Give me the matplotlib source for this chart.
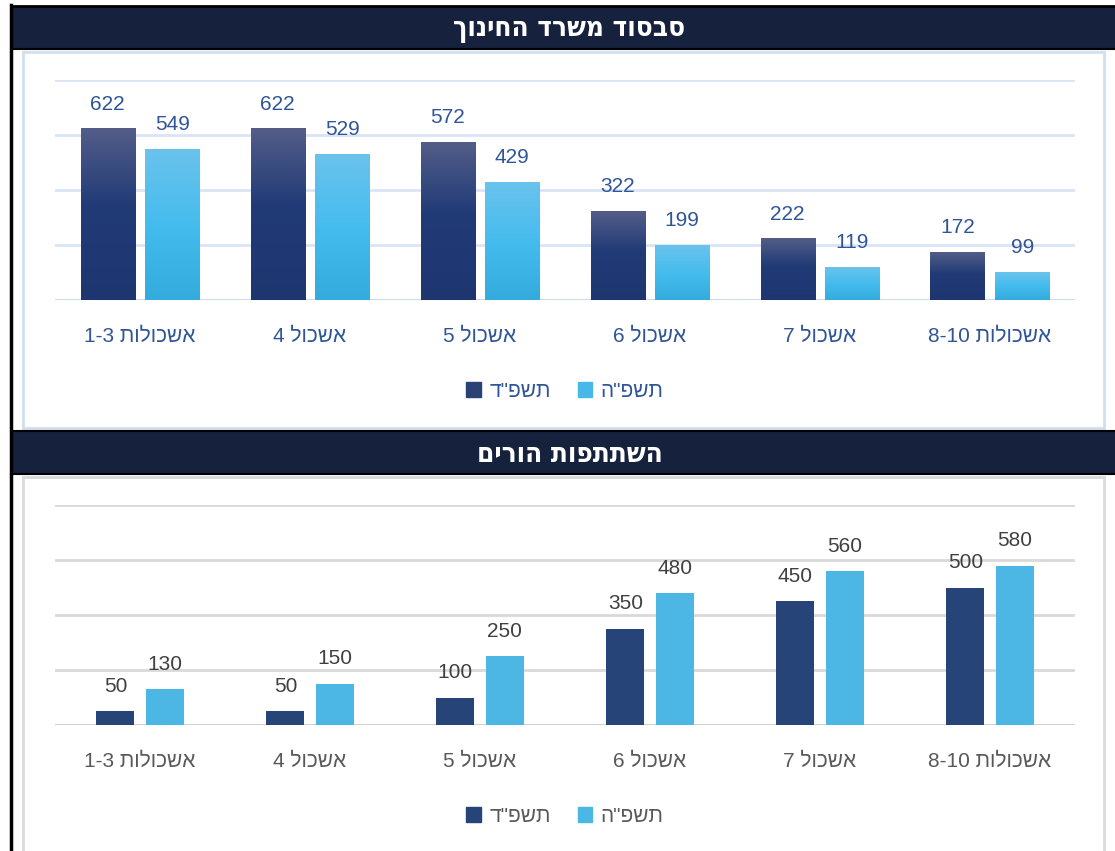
import numpy as np
import matplotlib
matplotlib.use("Agg")
import matplotlib.pyplot as plt
from matplotlib.patches import Rectangle
from matplotlib.lines import Line2D
from matplotlib.colors import LinearSegmentedColormap

plt.rcParams['font.family'] = ['Liberation Sans', 'DejaVu Sans']

# data
categories = ["אשכולות 1-3", "אשכול 4", "אשכול 5", "אשכול 6", "אשכול 7", "אשכולות 8-10"]
series_names = ['תשפ"ד', 'תשפ"ה']
title_top = "סבסוד משרד החינוך"
title_bottom = "השתתפות הורים"
subsidy_84 = [622, 622, 572, 322, 222, 172]
subsidy_85 = [549, 529, 429, 199, 119, 99]
parents_84 = [50, 50, 100, 350, 450, 500]
parents_85 = [130, 150, 250, 480, 560, 580]


def vis(s):
    # matplotlib has no bidi: put hebrew in visual (LTR) order
    out = []
    for tok in s.split(" ")[::-1]:
        if any('\u0590' <= c <= '\u05ff' for c in tok):
            out.append(tok[::-1])
        else:
            out.append(tok)
    return " ".join(out)


W, H = 1115, 851
fig = plt.figure(figsize=(W / 100, H / 100), dpi=100)


def px_rect(x0, y0, x1, y1, **kw):
    r = Rectangle((x0 / W, 1 - y1 / H), (x1 - x0) / W, (y1 - y0) / H,
                  transform=fig.transFigure, **kw)
    fig.add_artist(r)


def px_line(x0, y0, x1, y1, **kw):
    fig.add_artist(Line2D([x0 / W, x1 / W], [1 - y0 / H, 1 - y1 / H],
                          transform=fig.transFigure, **kw))


navy = "#15213d"
# headers
px_rect(11, 6, 1115, 48, facecolor=navy, edgecolor="none")
px_rect(11, 431, 1115, 473, facecolor=navy, edgecolor="none")
px_line(11, 6, 1115, 6, color="black", lw=2)
px_line(11, 48.5, 1115, 48.5, color="black", lw=1.5)
px_line(11, 430.5, 1115, 430.5, color="black", lw=1.5)
px_line(11, 473.5, 1115, 473.5, color="black", lw=1.5)
px_line(11, 5, 11, 851, color="black", lw=2.5)
# panel frames
px_rect(23, 52, 1104, 428, facecolor="none", edgecolor="#cfdff2", lw=2)
px_rect(23, 477, 1104, 860, facecolor="none", edgecolor="#d9d9d9", lw=2)

for y, t in [(29, title_top), (454, title_bottom)]:
    fig.text(0.5 + 12 / W, 1 - y / H, vis(t), color="white", fontsize=20,
             fontweight="bold", ha="center", va="center",
             family=["DejaVu Sans"], fontstretch="condensed")

x = np.arange(len(categories))
labels_vis = [vis(c) for c in categories]

dark_cmap = LinearSegmentedColormap.from_list(
    "d", [(0, "#1e3670"), (0.55, "#213b77"), (1, "#535d88")])
light_cmap = LinearSegmentedColormap.from_list(
    "l", [(0, "#33abdd"), (0.5, "#45bcee"), (1, "#6ac3ec")])
grad = np.linspace(0, 1, 256).reshape(-1, 1)


def setup(ax, gridc, basec, tickc):
    ax.set_ylim(0, 800)
    ax.set_xlim(-0.5, len(categories) - 0.5)
    ax.set_yticks([0, 200, 400, 600, 800])
    ax.yaxis.grid(True, color=gridc, lw=2)
    ax.set_axisbelow(True)
    for s in ax.spines.values():
        s.set_visible(False)
    ax.axhline(0, color=basec, lw=2, zorder=1)
    ax.tick_params(axis="y", left=False, labelleft=False)
    ax.tick_params(axis="x", bottom=False, pad=16, labelsize=15, labelcolor=tickc)
    ax.set_xticks(x)
    ax.set_xticklabels(labels_vis)


# top chart: gradient bars
ax1 = fig.add_axes([55 / W, 1 - 300 / H, 1020 / W, 220 / H])
w1 = 0.32
off1 = 0.19
b1 = ax1.bar(x - off1, subsidy_84, w1, color="none")
b2 = ax1.bar(x + off1, subsidy_85, w1, color="none")
for bars, cm in [(b1, dark_cmap), (b2, light_cmap)]:
    for r in bars:
        x0 = r.get_x()
        ax1.imshow(grad, extent=[x0, x0 + r.get_width(), 0, r.get_height()],
                   origin="lower", cmap=cm, aspect="auto", zorder=2)
setup(ax1, "#d9e5f4", "#cbd9ec", "#2f5597")
for bars, vals in [(b1, subsidy_84), (b2, subsidy_85)]:
    ax1.bar_label(bars, labels=[str(v) for v in vals], padding=11,
                  fontsize=15, color="#2f5597")
ax1.legend(handles=[Rectangle((0, 0), 1, 1, color="#2a4175"),
                    Rectangle((0, 0), 1, 1, color="#48b8e8")],
           labels=[vis(s) for s in series_names], ncol=2, frameon=False,
           loc="center", bbox_to_anchor=(0.5, -0.415), fontsize=15,
           labelcolor="#2f5597", handlelength=0.7, handleheight=0.7,
           handletextpad=0.4, columnspacing=1.3)

# bottom chart: flat bars
ax2 = fig.add_axes([55 / W, 1 - 725 / H, 1020 / W, 220 / H])
w2 = 0.225
off2 = 0.145
c1 = ax2.bar(x - off2, parents_84, w2, color="#264478", zorder=2)
c2 = ax2.bar(x + off2, parents_85, w2, color="#4cb7e5", zorder=2)
setup(ax2, "#d9d9d9", "#d0d0d0", "#595959")
for bars, vals in [(c1, parents_84), (c2, parents_85)]:
    ax2.bar_label(bars, labels=[str(v) for v in vals], padding=11,
                  fontsize=15, color="#404040")
ax2.legend(handles=[Rectangle((0, 0), 1, 1, color="#264478"),
                    Rectangle((0, 0), 1, 1, color="#4cb7e5")],
           labels=[vis(s) for s in series_names], ncol=2, frameon=False,
           loc="center", bbox_to_anchor=(0.5, -0.415), fontsize=15,
           labelcolor="#595959", handlelength=0.7, handleheight=0.7,
           handletextpad=0.4, columnspacing=1.3)

fig.savefig("out.png", dpi=100)
